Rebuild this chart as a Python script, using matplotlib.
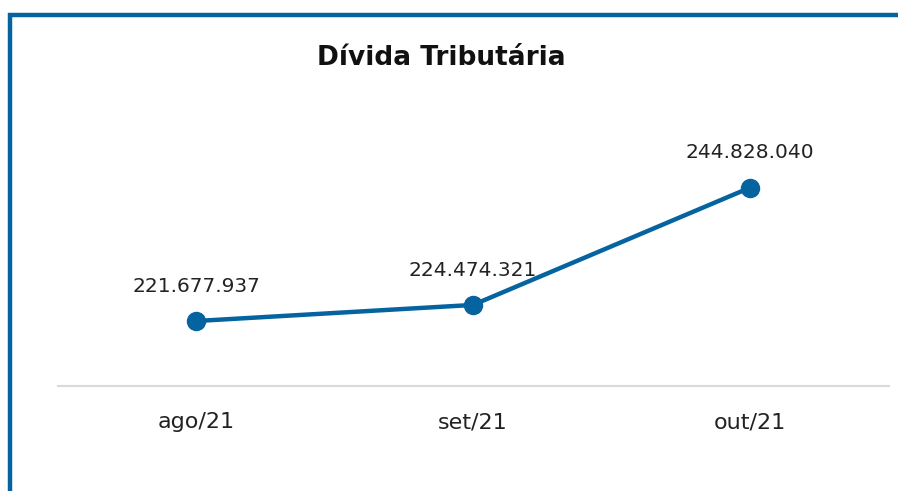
import matplotlib.pyplot as plt
from matplotlib.patches import Rectangle

months = ['ago/21', 'set/21', 'out/21']
values = [221677937, 224474321, 244828040]
labels = ['221.677.937', '224.474.321', '244.828.040']

W, H = 898, 491
blue = '#0563A0'
plt.rcParams['font.family'] = ['DejaVu Sans']

fig = plt.figure(figsize=(W / 100, H / 100), dpi=100)

# frame in figure pixels (left and top edges visible)
fig.patches.append(Rectangle((9.5 / W, -0.1), 1.2, (H - 14.5) / H + 0.1,
                             transform=fig.transFigure, fill=False,
                             edgecolor=blue, linewidth=3.2))

ax = fig.add_axes([57.5 / W, (H - 386) / H, 831 / W, 231 / H])
ax.plot(range(len(values)), values, color=blue, linewidth=3.2,
        marker='o', markersize=13, solid_capstyle='round')
for i, (v, lab) in enumerate(zip(values, labels)):
    ax.annotate(lab, (i, v), xytext=(0, 25), textcoords='offset points',
                ha='center', va='center', fontsize=14.5, color='#222222')

ax.set_xlim(-0.5, 2.5)
ax.set_ylim(210.4e6, 250.5e6)
ax.set_xticks(range(len(months)))
ax.set_xticklabels(months, fontsize=16, color='#222222')
ax.tick_params(axis='x', length=0, pad=19)
ax.set_yticks([])
for s in ['top', 'right', 'left']:
    ax.spines[s].set_visible(False)
ax.spines['bottom'].set_color('#d9d9d9')
ax.spines['bottom'].set_linewidth(1.5)

fig.text(441 / W, 1 - 58 / H, 'Dívida Tributária', ha='center', va='center',
         fontsize=19, fontweight='bold', color='#111111')

fig.savefig('out.png', dpi=100)
